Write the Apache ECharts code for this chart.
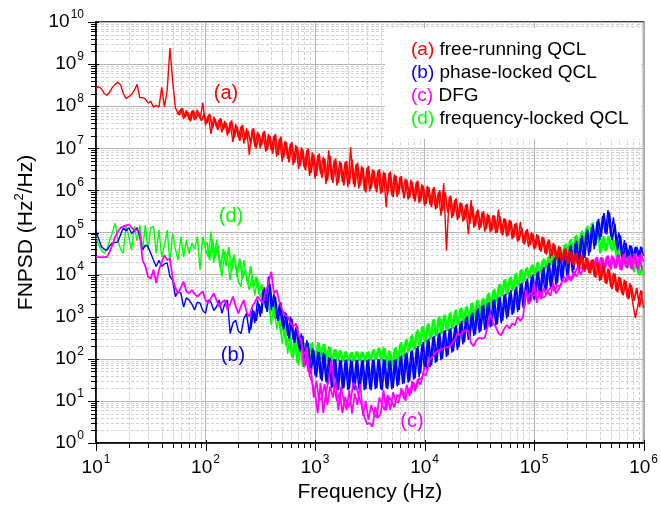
<!DOCTYPE html>
<html>
<head>
<meta charset="utf-8">
<script src="https://cdn.jsdelivr.net/npm/echarts@6/dist/echarts.min.js"></script>
<style>
html,body{margin:0;padding:0;background:#fff;}
#chart{width:661px;height:509px;}
</style>
</head>
<body>
<div id="chart"></div>
<script>
// Frequency samples (Hz)
const freq = [
10,10.59,11.22,11.89,12.59,13.34,14.13,14.96,15.85,16.79,
17.78,18.84,19.95,21.13,22.39,23.71,25.12,26.61,28.18,29.85,
31.62,33.5,35.48,37.58,39.81,42.17,44.67,47.32,50.12,53.09,
56.23,59.57,63.1,66.83,70.79,74.99,79.43,84.14,89.13,94.41,
100,105.9,112.2,118.9,125.9,133.4,141.3,149.6,158.5,167.9,
177.8,188.4,199.5,211.3,223.9,237.1,251.2,266.1,281.8,298.5,
316.2,335,354.8,375.8,398.1,421.7,446.7,473.2,501.2,530.9,
562.3,595.7,631,668.3,707.9,749.9,794.3,841.4,891.3,944.1,
1000,1059,1122,1189,1259,1334,1413,1496,1585,1679,
1778,1884,1995,2113,2239,2371,2512,2661,2818,2985,
3162,3350,3548,3758,3981,4217,4467,4732,5012,5309,
5623,5957,6310,6683,7079,7499,7943,8414,8913,9441,
10000,10590,11220,11890,12590,13340,14130,14960,15850,16790,
17780,18840,19950,21130,22390,23710,25120,26610,28180,29850,
31620,33500,35480,37580,39810,42170,44670,47320,50120,53090,
56230,59570,63100,66830,70790,74990,79430,84140,89130,94410,
100000,105900,112200,118900,125900,133400,141300,149600,158500,167900,
177800,188400,199500,211300,223900,237100,251200,266100,281800,298500,
316200,335000,354800,375800,398100,421700,446700,473200,501200,530900,
562300,595700,631000,668300,707900,749900,794300,841400,891300,944100,
1000000];

// In-between frequency samples (Hz) for the dense noise bands
const freqMid = [
10.29,10.9,11.55,12.23,12.96,13.72,14.54,15.4,16.31,17.28,
18.3,19.39,20.54,21.75,23.04,24.41,25.85,27.38,29.01,30.73,
32.55,34.47,36.52,38.68,40.97,43.4,45.97,48.7,51.58,54.64,
57.88,61.31,64.94,68.79,72.86,77.18,81.75,86.6,91.73,97.16,
102.9,109,115.5,122.3,129.6,137.2,145.4,154,163.1,172.8,
183,193.9,205.4,217.5,230.4,244.1,258.5,273.8,290.1,307.3,
325.5,344.7,365.2,386.8,409.7,434,459.7,487,515.8,546.4,
578.8,613.1,649.4,687.9,728.6,771.8,817.5,866,917.3,971.6,
1029,1090,1155,1223,1296,1372,1454,1540,1631,1728,
1830,1939,2054,2175,2304,2441,2585,2738,2901,3073,
3255,3447,3652,3868,4097,4340,4597,4870,5158,5464,
5788,6131,6494,6879,7286,7718,8175,8660,9173,9716,
10290,10900,11550,12230,12960,13720,14540,15400,16310,17280,
18300,19390,20540,21750,23040,24410,25850,27380,29010,30730,
32550,34470,36520,38680,40970,43400,45970,48700,51580,54640,
57880,61310,64940,68790,72860,77180,81750,86600,91730,97160,
102900,109000,115500,122300,129600,137200,145400,154000,163100,172800,
183000,193900,205400,217500,230400,244100,258500,273800,290100,307300,
325500,344700,365200,386800,409700,434000,459700,487000,515800,546400,
578800,613100,649400,687900,728600,771800,817500,866000,917300,971600];

// (a) free-running QCL
const freeRunning = [
2.7e8,2.9e8,2.6e8,2e8,1.8e8,2.2e8,2.8e8,3.3e8,3.7e8,3.2e8,
2e8,1.5e8,1.7e8,1.9e8,2.4e8,3.3e8,1.6e8,1.6e8,1.5e8,1.2e8,
1.3e8,9.5e7,1.05e8,9.5e7,2.8e8,9.5e7,2.4e8,2.4e9,4e8,9e7,
6.8e7,8.5e7,5e7,8e7,4.8e7,7.6e7,4.6e7,8.3e7,5e7,1.2e8,
3.5e7,6e7,2.2e7,5.6e7,3.2e7,4.8e7,2.4e7,4.5e7,2e7,4.2e7,
1.4e7,3.8e7,1.8e7,3.3e7,1.3e7,3e7,7e6,2.8e7,1.1e7,2.5e7,
1e7,2.4e7,8.3e6,2.2e7,9e6,2e7,6.3e6,1.7e7,4.8e6,1.5e7,
5.6e6,1.3e7,4e6,1.2e7,3.2e6,1.05e7,3.5e6,9e6,2.2e6,8e6,
1.9e6,7e6,2.5e6,6.3e6,1.4e6,9e6,1.8e6,5.2e6,1.3e6,5e6,
1.6e6,4.8e6,1.2e6,1.05e7,1.4e6,4.2e6,1.1e6,3.8e6,1e6,3.5e6,
9.5e5,3.2e6,1.1e6,3e6,8.3e5,2.8e6,4e5,2.6e6,7.6e5,2.4e6,
7e5,2.1e6,9e5,1.9e6,6e5,1.8e6,6.3e5,1.6e6,5e5,1.4e6,
4.2e5,1.3e6,4.5e5,1.1e6,3.5e5,9e5,2.5e5,1.5e6,3.7e4,7e5,
2.2e5,6e5,2e5,5.2e5,1.8e5,4.5e5,9.1e4,5.9e5,1.3e5,3.2e5,
1.15e5,3e5,1.05e5,2.8e5,1e5,2.6e5,9.5e4,3.5e5,9.5e4,2.2e5,
8e4,2e5,7e4,1.6e5,6e4,1.8e5,5.6e4,1.1e5,4.5e4,1e5,
4e4,9.1e4,3.8e4,8e4,3.2e4,6.3e4,2.4e4,5.6e4,2.2e4,4.8e4,
2e4,4e4,1.9e4,3.8e4,1.8e4,3.2e4,1.5e4,2.8e4,1.3e4,2.6e4,
1.1e4,2.2e4,9e3,2e4,7e3,1.9e4,6.3e3,1.4e4,5e3,1.1e4,
4e3,9e3,3.6e3,7.6e3,2.8e3,6.3e3,2.2e3,9.3e2,2e3,4.3e3,
1.6e3];
const freeRunningMid = [
null,null,null,null,null,null,null,null,null,null,
null,null,null,null,null,null,null,null,null,null,
null,null,null,null,null,null,null,null,null,
7e7,6.2e7,9e7,5.5e7,7.2e7,4.4e7,8e7,5e7,7e7,4.5e7,6.5e7,
4e7,6.6e7,3e7,5e7,2.7e7,5.2e7,2.8e7,4e7,2.3e7,4.6e7,
1.8e7,3.3e7,1.5e7,3.6e7,1.6e7,2.6e7,1.3e7,3e7,1e7,2.2e7,
1.2e7,2.6e7,9e6,2e7,7.5e6,2.2e7,7e6,1.9e7,6e6,1.4e7,
4.6e6,1.4e7,4.5e6,1.1e7,3.8e6,9.5e6,3e6,1e7,2.6e6,7.2e6,
2.2e6,7.5e6,2e6,5.8e6,1.7e6,6.5e6,1.5e6,5.8e6,1.5e6,4.6e6,
1.3e6,5e6,1.4e6,5.5e6,1.2e6,4.5e6,1.3e6,3.5e6,9e5,3.8e6,
1.1e6,3e6,9e5,3.2e6,9e5,2.6e6,8e5,2.8e6,7e5,2.2e6,
8e5,2.2e6,6.5e5,1.8e6,6.6e5,1.6e6,5.5e5,1.7e6,5.5e5,1.3e6,
4.8e5,1.2e6,4e5,1.2e6,3.8e5,1e6,3.2e5,9e5,3e5,7.5e5,
2.5e5,6.5e5,2.2e5,5e5,2e5,4.8e5,1.6e5,4.2e5,1.4e5,3.5e5,
1.3e5,3.2e5,1.2e5,2.6e5,1.1e5,2.5e5,1e5,2.4e5,8.5e4,2.1e5,
8.5e4,1.9e5,7.5e4,1.7e5,6.5e4,1.3e5,5.2e4,1.2e5,5e4,9.5e4,
4.2e4,8.5e4,3.5e4,7.5e4,3e4,6.8e4,2.8e4,5.2e4,2.3e4,4.5e4,
2.1e4,4.2e4,1.8e4,3.5e4,1.6e4,3.3e4,1.4e4,3e4,1.2e4,2.5e4,
1.05e4,2.3e4,8.5e3,1.8e4,7.5e3,1.6e4,6e3,1.3e4,4.5e3,1.05e4,
3.8e3,8.5e3,3.2e3,7e3,2.6e3,5.6e3,2.4e3,4.8e3,1.7e3,4e3];

// (b) phase-locked QCL
const phaseLocked = [
1.05e5,7e4,4.6e4,4e4,3.8e4,4.8e4,5.6e4,5.8e4,6e4,9e4,
1.3e5,1.1e5,1.3e5,9.5e4,1.1e5,1.3e5,8e4,3.8e4,5e4,4.6e4,
3.2e4,2.2e4,1.55e4,2.2e4,1.55e4,1.8e4,1.9e4,9e3,7.4e3,3e3,
4e3,3.6e3,1.7e3,2.8e3,2.5e3,2e3,1.45e3,2.2e3,2.1e3,1.4e3,
1.2e3,2.5e3,2.2e3,1.4e3,1.7e3,2.5e3,1.2e3,2e3,2.5e3,4e2,
7e2,8.3e2,4.5e2,4e2,9e2,1.2e3,4e2,1.6e3,7e2,2.5e3,
1e3,4.3e3,1.6e3,9e3,1.45e3,3.5e3,9e2,2e3,5.8e2,1.3e3,
3.5e2,1e3,2.8e2,5.6e2,1.8e2,4e2,80,2.8e2,50,1.8e2,
40,1.5e2,33,1.4e2,28,1.1e2,20,1e2,19,95,
19,93,18,95,19,93,19,91,18,93,
19,95,19,98,19,98,20,90,19,93,
22,1.1e2,25,1.3e2,27,1.5e2,32,1.8e2,37,2.2e2,
54,2.8e2,63,3.3e2,80,3.8e2,93,4.5e2,1.1e2,5e2,
1.4e2,5.6e2,1.6e2,7e2,2.2e2,9e2,2.8e2,1.1e3,3.5e2,1.4e3,
4.2e2,1.8e3,4.8e2,2.1e3,5.6e2,2.4e3,6.3e2,2.8e3,7e2,3.2e3,
9e2,3.8e3,1.1e3,4.5e3,1.3e3,6e3,1.6e3,7e3,2e3,9e3,
2.5e3,1.1e4,3.2e3,1.3e4,3.8e3,1.7e4,4.8e3,2.2e4,5.6e3,2.8e4,
7e3,3.5e4,9e3,4.6e4,1.1e4,5.6e4,1.6e4,7e4,2.2e4,1e5,
2.8e4,1.3e5,4e4,1.8e5,6.6e4,2.5e5,9.5e4,3.4e5,8e4,2.3e5,
5e4,1e5,2.6e4,6.6e4,2.5e4,5e4,2.4e4,4.6e4,2.6e4,4.6e4,
2.8e4];
const phaseLockedMid = [
null,null,null,null,null,null,null,null,null,null,
null,null,null,null,null,null,null,null,null,null,
null,null,null,null,null,null,null,null,null,null,
null,null,null,null,null,null,null,null,null,null,
null,null,null,null,null,null,null,null,null,null,
null,null,null,null,null,null,
5e2,1.4e3,8e2,2e3,
1.2e3,5e3,1.3e3,6e3,1.7e3,3e3,8e2,2.2e3,5e2,1.2e3,
3e2,9e2,2.4e2,6e2,1.5e2,3.5e2,70,2.4e2,45,1.6e2,
36,1.45e2,30,1.3e2,25,1.05e2,21,97,18,92,
20,96,19,90,18,95,20,93,19,97,
18,94,20,96,18,95,19,92,20,100,
24,1.2e2,26,1.4e2,29,1.6e2,34,2e2,45,2.5e2,
58,3e2,70,3.5e2,86,4.2e2,1e2,4.8e2,1.2e2,5.3e2,
1.5e2,6.3e2,1.9e2,8e2,2.5e2,1e3,3.2e2,1.25e3,3.8e2,1.6e3,
4.5e2,1.9e3,5.2e2,2.2e3,6e2,2.6e3,6.6e2,3e3,8e2,3.5e3,
1e3,4.2e3,1.2e3,5.2e3,1.45e3,6.5e3,1.8e3,8e3,2.2e3,1e4,
2.8e3,1.2e4,3.5e3,1.5e4,4.2e3,1.9e4,5.2e3,2.5e4,6.3e3,3.1e4,
8e3,4e4,1e4,5e4,1.3e4,6.3e4,1.9e4,8.5e4,2.5e4,1.15e5,
3.4e4,1.55e5,5e4,2.1e5,8e4,2.9e5,9e4,3e5,6.5e4,1.6e5,
3.8e4,8.5e4,2.5e4,5.6e4,2.4e4,4.8e4,2.5e4,4.5e4,2.7e4,4.4e4];

// (c) DFG
const dfg = [
2.6e4,2.6e4,2.6e4,2.6e4,2.6e4,3.5e4,5e4,8e4,1.05e5,1.3e5,
1.4e5,1.48e5,1.55e5,1.3e5,1.15e5,1.15e5,1e5,2.2e4,1.6e4,9e3,
8e3,1.3e4,6.3e3,1.3e4,2e4,2.9e4,2.2e4,2.4e4,8e3,4.8e3,
3.6e3,5e3,6.8e3,4e3,3.6e3,4.3e3,3.5e3,3e3,3.5e3,4e3,
2.5e3,2.1e3,2.8e3,3.6e3,2.5e3,1.7e3,2.2e3,2.5e3,1.45e3,2e3,
3e3,1.8e3,1.2e3,1.8e3,2.5e3,1.3e3,1e3,1.7e3,2.2e3,3e3,
2.5e3,2.1e3,4e3,6.3e3,1.17e4,3.6e3,4.3e3,2.2e3,1.45e3,1.1e3,
1e3,7e2,5.8e2,6.9e2,3.5e2,2.8e2,63,1.95e2,40,27,
15,5.1,27,5.1,16,32,93,20,10,16,
5.1,12.6,7,10,27,22,12.6,8,4.2,2.8,
3,2.4,7.2,4,5.1,18,6,12.6,10,7,
14,12.6,18,10,20,15,27,20,35,32,
63,56,100,112,141,158,166,178,190,190,
224,282,400,355,447,479,447,234,200,282,
316,302,316,562,1230,708,575,400,363,501,
631,525,692,631,1000,794,1000,4270,2000,2510,
6310,2140,3980,2820,3020,3980,3160,6310,3550,4470,
6310,8910,7080,8910,7940,1.12e4,1.55e4,1e4,1.41e4,1.58e4,
1.26e4,2.24e4,1.41e4,2.63e4,1.26e4,2.51e4,1.41e4,2.82e4,1.32e4,2.63e4,
1.41e4,3.02e4,1.26e4,3.16e4,1.41e4,2.82e4,1.32e4,3.16e4,1.26e4,3.02e4,
2e4];
const dfgMid = [
null,null,null,null,null,null,null,null,null,null,
null,null,null,null,null,null,null,null,null,null,
null,null,null,null,null,null,null,null,null,null,
null,null,null,null,null,null,null,null,null,null,
null,null,null,null,null,null,null,null,null,null,
null,null,null,null,null,null,null,null,null,null,
null,null,null,null,null,null,null,null,null,null,
null,null,null,null,null,
1.2e2,1.5e2,50,60,12,
30,10,12,25,8,22,12,30,6,22,
10,6,18,5,15,8,25,4.5,10,3.5,
8,5,4,12,8,6,14,6,16,10,
9,20,11,24,13,30,17,33,24,45,
40,70,
null,null,null,null,null,null,null,null,
null,null,null,null,null,null,null,null,null,null,
null,null,null,null,null,null,null,null,null,null,
null,null,null,null,null,null,null,
2.5e3,3.6e3,3.2e3,
3.3e3,4.4e3,2.6e3,4.8e3,3.4e3,4.5e3,5e3,4e3,5.6e3,5.2e3,
7.5e3,6.5e3,1e4,7e3,1.2e4,9e3,1.3e4,1.5e4,1.2e4,2e4,
1.8e4,1.4e4,2.4e4,1.5e4,2.6e4,1.35e4,2.7e4,1.5e4,2.8e4,1.4e4,
2.9e4,1.3e4,3e4,1.5e4,2.8e4,1.35e4,3.1e4,1.4e4,2.9e4,1.3e4];

// (d) frequency-locked QCL
const freqLocked = [
8e4,5e4,3.8e4,3.2e4,4e4,6.6e4,1e5,1.66e5,6.6e4,4e4,
3.2e4,1.5e5,8e4,3.8e4,1.4e5,6.3e4,1.5e5,3.8e4,1.5e5,3.8e4,
1.3e5,1.4e5,3.2e4,1.15e5,2.6e4,5e4,1.15e5,1.9e4,9.5e4,4e4,
2.2e4,8e4,2.6e4,6.6e4,3.2e4,5.6e4,4e4,8e4,1.3e4,8e4,
4e4,2.6e4,1.05e5,1.9e4,6.6e4,2e4,9e3,3.5e4,2.6e4,7.4e3,
2.5e4,1.9e4,7e3,5.1e3,2.2e4,8e3,4.3e3,9e3,3.2e3,8e3,
2.8e3,4.5e3,1.6e3,2.8e3,6.3e2,2e3,5e2,1e3,2.2e2,7e2,
1.3e2,4e2,1e2,2.8e2,70,2.5e2,70,2.2e2,63,2.5e2,
90,2.5e2,1e2,2.3e2,90,2e2,80,1.66e2,90,1.6e2,
83,1.5e2,90,1.4e2,85,1.5e2,90,1.48e2,83,1.45e2,
90,1.6e2,93,1.8e2,93,1.9e2,70,1.6e2,63,1.8e2,
80,2.3e2,90,2.8e2,1.4e2,3.5e2,1.6e2,4.5e2,1.9e2,5.8e2,
2.2e2,6.6e2,2.8e2,8.3e2,3.3e2,9.5e2,3.8e2,1.07e3,4.5e2,1.2e3,
5e2,1.4e3,6e2,1.6e3,6.6e2,1.7e3,7.6e2,2.1e3,9e2,2.4e3,
1e3,2.6e3,1.3e3,3.5e3,1.6e3,4.3e3,2e3,5.6e3,3e3,7.4e3,
3.2e3,8.3e3,4e3,1e4,5e3,1.3e4,6.3e3,1.4e4,8e3,1.66e4,
9e3,1.9e4,1e4,2.2e4,1.3e4,2.6e4,1.6e4,3.2e4,1.8e4,4e4,
2.2e4,5e4,2.6e4,6.6e4,3.2e4,8.3e4,4e4,1e5,4.6e4,1.3e5,
5.6e4,1.66e5,6.6e4,1.86e5,3.2e4,8e4,3.5e4,8.3e4,4e4,7e4,
2.6e4,6.6e4,2.2e4,3.8e4,1.6e4,3.2e4,1.3e4,2.6e4,1e4,1.9e4,
9e3];
const freqLockedMid = [
null,null,null,null,null,null,null,null,null,null,
null,null,null,null,null,null,null,null,null,null,
null,null,null,null,null,null,null,null,null,null,
null,null,null,null,null,null,null,null,null,null,
6e4,2.2e4,7e4,2.5e4,5e4,1.5e4,4e4,1.6e4,4.5e4,1.2e4,
3e4,9e3,2.4e4,8e3,1.3e4,6e3,1.6e4,5e3,9e3,3.5e3,
6e3,2.5e3,3.5e3,1.2e3,1.6e3,9e2,1.1e3,4e2,6e2,2e2,
3.5e2,1.1e2,3e2,80,2.6e2,65,2.4e2,60,2.3e2,75,
95,2.4e2,95,2.2e2,88,1.9e2,85,1.7e2,88,1.55e2,
86,1.5e2,88,1.45e2,87,1.5e2,88,1.45e2,86,1.5e2,
92,1.7e2,95,1.85e2,88,1.8e2,66,1.5e2,68,1.9e2,
85,2.5e2,1.1e2,3e2,1.5e2,3.8e2,1.7e2,5e2,2e2,6e2,
2.5e2,7e2,3e2,8.8e2,3.5e2,1e3,4e2,1.12e3,4.7e2,1.3e3,
5.3e2,1.5e3,6.3e2,1.65e3,7e2,1.8e3,8e2,2.2e3,9.5e2,2.5e3,
1.1e3,2.8e3,1.4e3,3.7e3,1.8e3,4.6e3,2.3e3,6e3,3.1e3,7.8e3,
3.5e3,9e3,4.4e3,1.1e4,5.5e3,1.35e4,7e3,1.5e4,8.5e3,1.75e4,
9.5e3,2e4,1.1e4,2.4e4,1.45e4,2.8e4,1.7e4,3.5e4,2e4,4.3e4,
2.4e4,5.5e4,2.9e4,7e4,3.5e4,8.8e4,4.2e4,1.1e5,5e4,1.45e5,
6e4,1.75e5,5e4,1.2e5,3.3e4,8.2e4,3.7e4,8e4,3.6e4,6.6e4,
2.4e4,5.2e4,2e4,3.5e4,1.45e4,3e4,1.15e4,2.3e4,9.5e3,1.6e4];

// Axis ticks
const xMajorTicks = [10, 100, 1e3, 1e4, 1e5, 1e6];
const yMajorTicks = [1, 10, 100, 1e3, 1e4, 1e5, 1e6, 1e7, 1e8, 1e9, 1e10];
const xMinorTicks = [20,30,40,50,60,70,80,90,200,300,400,500,600,700,800,900,
  2e3,3e3,4e3,5e3,6e3,7e3,8e3,9e3,2e4,3e4,4e4,5e4,6e4,7e4,8e4,9e4,
  2e5,3e5,4e5,5e5,6e5,7e5,8e5,9e5];
const yMinorTicks = [2,3,4,5,6,7,8,9,20,30,40,50,60,70,80,90,200,300,400,500,600,700,800,900,
  2e3,3e3,4e3,5e3,6e3,7e3,8e3,9e3,2e4,3e4,4e4,5e4,6e4,7e4,8e4,9e4,
  2e5,3e5,4e5,5e5,6e5,7e5,8e5,9e5,2e6,3e6,4e6,5e6,6e6,7e6,8e6,9e6,
  2e7,3e7,4e7,5e7,6e7,7e7,8e7,9e7,2e8,3e8,4e8,5e8,6e8,7e8,8e8,9e8,
  2e9,3e9,4e9,5e9,6e9,7e9,8e9,9e9];

const seriesTags = ['(a)', '(b)', '(c)', '(d)'];
const seriesLabels = ['free-running QCL', 'phase-locked QCL', 'DFG', 'frequency-locked QCL'];
const xTitle = 'Frequency (Hz)';

const X_MIN = 10, X_MAX = 1e6, Y_MIN = 1, Y_MAX = 1e10;
const FONT = '"Liberation Sans", Arial, sans-serif';
const COLORS = { a: '#ff0000', b: '#0000ff', c: '#ff00ff', d: '#00ff00' };

function pairs(fs, vals) { return fs.map((f, k) => [f, vals[k] === null ? '-' : vals[k]]); }

function expLabel(v) {
  return '{b|10}{s|' + Math.round(Math.log10(v)) + '}';
}

function renderMinorGrid(params, api) {
  const p0 = api.coord([X_MIN, Y_MIN]), p1 = api.coord([X_MAX, Y_MAX]);
  const L = p0[0], B = p0[1], R = p1[0], T = p1[1];
  const kids = [];
  xMinorTicks.forEach(v => {
    const x = Math.round(api.coord([v, Y_MIN])[0]) + 0.5;
    kids.push({ type: 'line', shape: { x1: x, y1: T, x2: x, y2: B },
      style: { stroke: '#d2d2d2', lineWidth: 1, lineDash: [3, 2] } });
  });
  yMinorTicks.forEach(v => {
    const y = Math.round(api.coord([X_MIN, v])[1]) + 0.5;
    kids.push({ type: 'line', shape: { x1: L, y1: y, x2: R, y2: y },
      style: { stroke: '#d2d2d2', lineWidth: 1, lineDash: [3, 2] } });
  });
  return { type: 'group', children: kids };
}

function renderTicks(params, api) {
  const p0 = api.coord([X_MIN, Y_MIN]);
  const L = p0[0], B = p0[1];
  const kids = [];
  const st = () => ({ stroke: '#000', lineWidth: 1 });
  xMinorTicks.forEach(v => {
    const x = Math.round(api.coord([v, Y_MIN])[0]) + 0.5;
    kids.push({ type: 'line', shape: { x1: x, y1: B - 1, x2: x, y2: B + 5 }, style: st() });
  });
  xMajorTicks.forEach(v => {
    const x = Math.round(api.coord([v, Y_MIN])[0]) + 0.5;
    kids.push({ type: 'line', shape: { x1: x, y1: B - 3, x2: x, y2: B + 8 }, style: st() });
  });
  yMinorTicks.forEach(v => {
    const y = Math.round(api.coord([X_MIN, v])[1]) + 0.5;
    kids.push({ type: 'line', shape: { x1: L - 5, y1: y, x2: L + 1, y2: y }, style: st() });
  });
  yMajorTicks.forEach(v => {
    const y = Math.round(api.coord([X_MIN, v])[1]) + 0.5;
    kids.push({ type: 'line', shape: { x1: L - 8, y1: y, x2: L + 3, y2: y }, style: st() });
  });
  return { type: 'group', children: kids };
}

function lineSeries(name, data, color, width, z) {
  return { name: name, type: 'line', data: data, symbol: 'none', showSymbol: false, z: z, silent: true,
    connectNulls: false,
    lineStyle: { color: color, width: width }, itemStyle: { color: color } };
}

const labelRich = {
  b: { fontSize: 19, fontFamily: FONT, color: '#000' },
  s: { fontSize: 12, fontFamily: FONT, color: '#000', padding: [0, 0, 15, 1] }
};

const chart = echarts.init(document.getElementById('chart'), null, { renderer: 'canvas' });
chart.setOption({
  animation: false,
  backgroundColor: '#fff',
  grid: { left: 96, right: 16, top: 22, bottom: 66, show: true, borderColor: '#000', borderWidth: 1.5, backgroundColor: 'transparent' },
  xAxis: {
    type: 'log', logBase: 10, min: X_MIN, max: X_MAX, interval: 1,
    name: xTitle, nameLocation: 'middle', nameGap: 38,
    nameTextStyle: { fontSize: 21, fontFamily: FONT, color: '#000' },
    axisLine: { show: true, lineStyle: { color: '#000', width: 1.5 } },
    axisTick: { show: false },
    axisLabel: { margin: 11, formatter: expLabel, rich: labelRich },
    splitLine: { show: true, lineStyle: { color: '#b4b4b4', width: 1 } },
    minorTick: { show: false }, minorSplitLine: { show: false }
  },
  yAxis: {
    type: 'log', logBase: 10, min: Y_MIN, max: Y_MAX, interval: 1,
    name: '{t|FNPSD (Hz}{s|2}{t|/Hz)}', nameLocation: 'middle', nameGap: 56,
    nameTextStyle: { rich: {
      t: { fontSize: 21, fontFamily: FONT, color: '#000' },
      s: { fontSize: 13, fontFamily: FONT, color: '#000', padding: [0, 0, 14, 0] }
    } },
    axisLine: { show: true, lineStyle: { color: '#000', width: 1.5 } },
    axisTick: { show: false },
    axisLabel: { margin: 12, formatter: expLabel, rich: labelRich },
    splitLine: { show: true, lineStyle: { color: '#b4b4b4', width: 1 } },
    minorTick: { show: false }, minorSplitLine: { show: false }
  },
  legend: {
    data: ['a', 'b', 'c', 'd'], orient: 'vertical', left: 385, top: 28,
    icon: 'none', itemWidth: 0, itemHeight: 10, itemGap: 2,
    padding: [11, 13, 10, 21], backgroundColor: '#fff', selectedMode: false,
    textStyle: { fontSize: 19, fontFamily: FONT, color: '#000', lineHeight: 21,
      rich: {
        a: { fontSize: 19, fontFamily: FONT, color: COLORS.a, lineHeight: 21 },
        b: { fontSize: 19, fontFamily: FONT, color: COLORS.b, lineHeight: 21 },
        c: { fontSize: 19, fontFamily: FONT, color: COLORS.c, lineHeight: 21 },
        d: { fontSize: 19, fontFamily: FONT, color: COLORS.d, lineHeight: 21 },
        t: { fontSize: 19, fontFamily: FONT, color: '#000', lineHeight: 21 }
      } },
    formatter: name => {
      const k = ['a', 'b', 'c', 'd'].indexOf(name);
      return '{' + name + '|' + seriesTags[k] + '}{t| ' + seriesLabels[k] + '}';
    }
  },
  graphic: [
    { type: 'text', x: 226, y: 93, z: 100, style: { text: seriesTags[0], fill: COLORS.a, font: '20px ' + FONT, align: 'center', verticalAlign: 'middle', textAlign: 'center', textVerticalAlign: 'middle' } },
    { type: 'text', x: 233, y: 355, z: 100, style: { text: seriesTags[1], fill: COLORS.b, font: '20px ' + FONT, align: 'center', verticalAlign: 'middle', textAlign: 'center', textVerticalAlign: 'middle' } },
    { type: 'text', x: 412, y: 421, z: 100, style: { text: seriesTags[2], fill: COLORS.c, font: '20px ' + FONT, align: 'center', verticalAlign: 'middle', textAlign: 'center', textVerticalAlign: 'middle' } },
    { type: 'text', x: 231, y: 216, z: 100, style: { text: seriesTags[3], fill: COLORS.d, font: '20px ' + FONT, align: 'center', verticalAlign: 'middle', textAlign: 'center', textVerticalAlign: 'middle' } }
  ],
  series: [
    { type: 'custom', name: 'minorGrid', renderItem: renderMinorGrid, data: [[X_MIN, Y_MIN]], z: 1, silent: true, clip: false },
    lineSeries('d', pairs(freq, freqLocked), COLORS.d, 1.4, 3),
    lineSeries('d-band', pairs(freqMid, freqLockedMid), COLORS.d, 1.7, 3),
    lineSeries('b', pairs(freq, phaseLocked), COLORS.b, 1.4, 4),
    lineSeries('b-band', pairs(freqMid, phaseLockedMid), COLORS.b, 1.7, 4),
    lineSeries('c', pairs(freq, dfg), COLORS.c, 1.8, 5),
    lineSeries('c-band', pairs(freqMid, dfgMid), COLORS.c, 1.7, 5),
    lineSeries('a', pairs(freq, freeRunning), COLORS.a, 1.4, 6),
    lineSeries('a-band', pairs(freqMid, freeRunningMid), COLORS.a, 1.7, 6),
    { type: 'custom', name: 'ticks', renderItem: renderTicks, data: [[X_MIN, Y_MIN]], z: 10, silent: true, clip: false }
  ]
});
</script>
</body>
</html>
